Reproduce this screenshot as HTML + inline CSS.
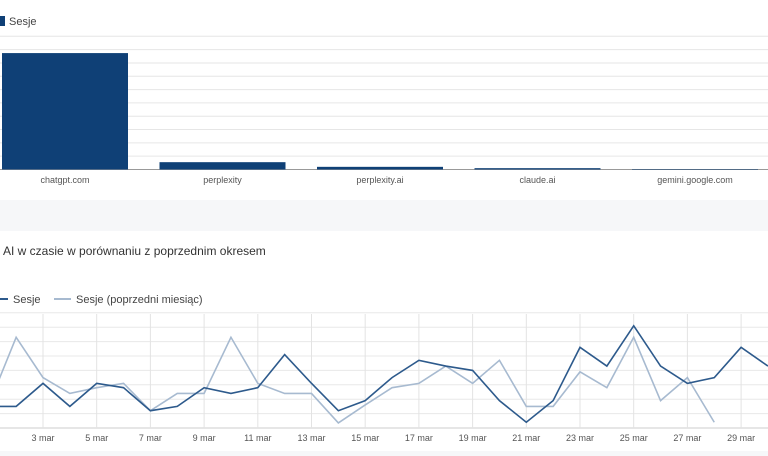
<!DOCTYPE html>
<html><head><meta charset="utf-8"><style>
body{margin:0;width:768px;height:456px;overflow:hidden;background:#fff;font-family:"Liberation Sans",sans-serif;}
svg{position:absolute;left:0;top:0}
</style></head><body>
<svg id="s" width="768" height="456">
<rect x="0" y="200" width="768" height="31" fill="#f6f7f9"/>
<rect x="0" y="451" width="768" height="5" fill="#f6f7f9"/>
<g><rect x="-2" y="16" width="7" height="10" fill="#0f4076"/><text x="9" y="25" font-size="11" fill="#444">Sesje</text></g>
<text x="3" y="255" font-size="12" fill="#333">AI w czasie w porównaniu z poprzednim okresem</text>
<g><line x1="-2" y1="299" x2="8" y2="299" stroke="#2d5a8c" stroke-width="2"/><text x="13" y="303" font-size="11" fill="#444">Sesje</text></g>
<g><line x1="54" y1="299" x2="71" y2="299" stroke="#a7bad0" stroke-width="2"/><text x="76" y="303" font-size="11" fill="#444">Sesje (poprzedni miesiąc)</text></g>
<g id="bars"></g><g id="lines"></g>
</svg>
<script>
const categories=["chatgpt.com","perplexity","perplexity.ai","claude.ai","gemini.google.com"];
const sessions=[8.74,0.55,0.2,0.1,0.03];
const barTicks=[0,1,2,3,4,5,6,7,8,9,10];
const dayLabels=["1 mar","2 mar","3 mar","4 mar","5 mar","6 mar","7 mar","8 mar","9 mar","10 mar","11 mar","12 mar","13 mar","14 mar","15 mar","16 mar","17 mar","18 mar","19 mar","20 mar","21 mar","22 mar","23 mar","24 mar","25 mar","26 mar","27 mar","28 mar","29 mar","30 mar"];
const current=[1.5,1.5,3.1,1.5,3.1,2.8,1.2,1.5,2.8,2.4,2.8,5.1,3.1,1.2,1.9,3.5,4.7,4.3,4.0,1.9,0.4,1.9,5.6,4.3,7.1,4.3,3.1,3.5,5.6,4.3];
const previous=[1.7,6.3,3.5,2.4,2.8,3.1,1.2,2.4,2.4,6.3,3.1,2.4,2.4,0.35,1.6,2.8,3.1,4.3,3.1,4.7,1.5,1.5,3.9,2.8,6.3,1.9,3.5,0.4];
const lineTicks=[0,1,2,3,4,5,6,7,8];
const NS="http://www.w3.org/2000/svg";
function mk(t,a,p){const e=document.createElementNS(NS,t);for(const k in a)e.setAttribute(k,a[k]);p.appendChild(e);return e;}
const bg=document.getElementById('bars');
const by=v=>169.5-v*13.32;
const bx=i=>2+i*157.5;
barTicks.forEach(t=>{const l=mk('line',{x1:0,x2:768,y1:by(t),y2:by(t),stroke:t===0?'#999':'#e6e6e6','stroke-width':1},bg);

});
categories.forEach((c,i)=>{const r=mk('rect',{x:bx(i),y:by(sessions[i]),width:126,height:Math.max(0.5,169.5-by(sessions[i])),fill:'#0f4076'},bg);


const t=mk('text',{x:bx(i)+63,y:183,'font-size':9,fill:'#555','text-anchor':'middle'},bg);t.textContent=c;

});
const lg=document.getElementById('lines');
const lx=i=>-10.7+i*26.85;
const ly=v=>428-v*14.4;
lineTicks.forEach(t=>{const l=mk('line',{x1:0,x2:768,y1:ly(t),y2:ly(t),stroke:t===0?'#ccc':'#e8e8e8','stroke-width':1},lg);

});
dayLabels.forEach((d,i)=>{if(i%2===0&&i>0){const l=mk('line',{x1:lx(i),x2:lx(i),y1:314,y2:428,stroke:'#e3e3e3'},lg);


const t=mk('text',{x:lx(i),y:441,'font-size':9,fill:'#555','text-anchor':'middle'},lg);t.textContent=d;

}});
const pp=mk('polyline',{points:previous.map((v,i)=>lx(i)+','+ly(v)).join(' '),fill:'none',stroke:'#a7bad0','stroke-width':1.6},lg);


const cp=mk('polyline',{points:current.map((v,i)=>lx(i)+','+ly(v)).join(' '),fill:'none',stroke:'#2d5a8c','stroke-width':1.6},lg);


</script>
</body></html>
